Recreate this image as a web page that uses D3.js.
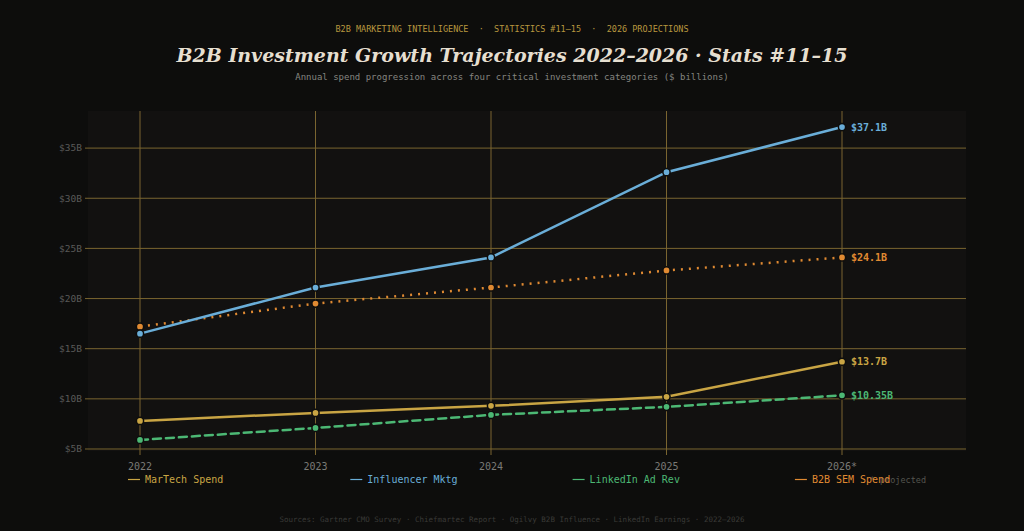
<!DOCTYPE html>
<html><head><meta charset="utf-8">
<script src="https://cdn.jsdelivr.net/npm/d3@7"></script>
<style>
html,body{margin:0;padding:0;background:#0d0d0c;}
svg{display:block;}
</style></head>
<body>
<svg id="c" width="1024" height="531"></svg>
<script>
const years = ["2022","2023","2024","2025","2026*"];
const martech = [7.8, 8.6, 9.3, 10.2, 13.7];
const influencer = [16.5, 21.1, 24.1, 32.6, 37.1];
const linkedin = [5.9, 7.1, 8.4, 9.2, 10.35];
const sem = [17.2, 19.5, 21.1, 22.8, 24.1];
const seriesNames = ["MarTech Spend","Influencer Mktg","LinkedIn Ad Rev","B2B SEM Spend"];
const endLabels = ["$13.7B","$37.1B","$10.35B","$24.1B"];
const yTicks = [5,10,15,20,25,30,35];

const colors = ["#c9a544","#6aaed8","#4cb874","#e08a32"];
const dashes = [null,null,"8,5","2,6"];
const allVals = [martech, influencer, linkedin, sem];

const svg = d3.select("#c");
const W=1024,H=531;
const L=88,R=966,T=111,B=451;
const mono = "'DejaVu Sans Mono', monospace";

svg.append("rect").attr("width",W).attr("height",H).attr("fill","#0d0d0c");
svg.append("rect").attr("x",L).attr("y",T).attr("width",R-L).attr("height",B-T).attr("fill","#121110");

const x = d3.scalePoint().domain(years).range([L+52,R-124]).padding(0);
const y = d3.scaleLinear().domain([4.8,38.7]).range([B,T]);

// grid
const gy = svg.append("g");
gy.selectAll("line").data(yTicks).join("line")
  .attr("x1",L-3).attr("x2",R).attr("y1",d=>y(d)).attr("y2",d=>y(d))
  .attr("stroke","#7a6530").attr("stroke-width",1);
const gx = svg.append("g");
gx.selectAll("line").data(years).join("line")
  .attr("x1",d=>x(d)).attr("x2",d=>x(d)).attr("y1",T).attr("y2",B+4)
  .attr("stroke","#7a6530").attr("stroke-width",1);

// axes labels
svg.append("g").selectAll("text").data(yTicks).join("text")
  .attr("x",L-6).attr("y",d=>y(d)).attr("dy","0.35em").attr("text-anchor","end")
  .attr("font-family",mono).attr("font-size",9.5).attr("fill","#5a5a58")
  .text(d=>"$"+d+"B");
svg.append("g").selectAll("text").data(years).join("text")
  .attr("x",d=>x(d)).attr("y",470).attr("text-anchor","middle")
  .attr("font-family",mono).attr("font-size",10).attr("fill","#7a7a76")
  .text(d=>d);

// lines
const line = d3.line().x((d,i)=>x(years[i])).y(d=>y(d));
const order = [0,2,3,1];
order.forEach(k=>{
  const p = svg.append("path").datum(allVals[k]).attr("d",line)
    .attr("fill","none").attr("stroke",colors[k]).attr("stroke-width",2.5)
    .attr("stroke-linecap", k===3?"butt":"round");
  if(dashes[k]) p.attr("stroke-dasharray",dashes[k]);
});
order.forEach(k=>{
  svg.append("g").selectAll("circle").data(allVals[k]).join("circle")
    .attr("cx",(d,i)=>x(years[i])).attr("cy",d=>y(d)).attr("r",3.6)
    .attr("fill",colors[k]).attr("stroke","#0d0d0c").attr("stroke-width",1.5);
  const last = allVals[k][allVals[k].length-1];
  svg.append("text").attr("x",x(years[years.length-1])+9).attr("y",y(last)).attr("dy","0.35em")
    .attr("font-family",mono).attr("font-size",10).attr("font-weight","bold").attr("fill",colors[k])
    .text(endLabels[k]);
});

// titles
svg.append("text").attr("x",512).attr("y",32).attr("text-anchor","middle")
  .attr("font-family",mono).attr("font-size",8.5).attr("fill","#b8973f")
  .attr("xml:space","preserve")
  .text("B2B MARKETING INTELLIGENCE  ·  STATISTICS #11–15  ·  2026 PROJECTIONS");
svg.append("text").attr("x",512).attr("y",62).attr("text-anchor","middle")
  .attr("font-family","'DejaVu Serif', serif").attr("font-size",19).attr("font-weight","bold")
  .attr("font-style","italic").attr("fill","#e6dfd0")
  .text("B2B Investment Growth Trajectories 2022–2026 · Stats #11–15");
svg.append("text").attr("x",512).attr("y",80).attr("text-anchor","middle")
  .attr("font-family",mono).attr("font-size",9).attr("fill","#858580")
  .text("Annual spend progression across four critical investment categories ($ billions)");

// projected note
svg.append("text").attr("x",926).attr("y",483).attr("text-anchor","end")
  .attr("font-family",mono).attr("font-size",8.5).attr("fill","#55554f")
  .text("* projected");

// legend
const lg = svg.append("g");
seriesNames.forEach((n,i)=>{
  const lx = 128 + i*222.3;
  lg.append("line").attr("x1",lx).attr("x2",lx+12).attr("y1",479.5).attr("y2",479.5)
    .attr("stroke",colors[i]).attr("stroke-width",1.2);
  lg.append("text").attr("x",lx+17).attr("y",479).attr("dy","0.35em")
    .attr("font-family",mono).attr("font-size",10).attr("fill",colors[i]).text(n);
});

svg.append("text").attr("x",512).attr("y",522).attr("text-anchor","middle")
  .attr("font-family",mono).attr("font-size",7.5).attr("fill","#3a3a37")
  .text("Sources: Gartner CMO Survey · Chiefmartec Report · Ogilvy B2B Influence · LinkedIn Earnings · 2022–2026");
</script>
</body></html>
